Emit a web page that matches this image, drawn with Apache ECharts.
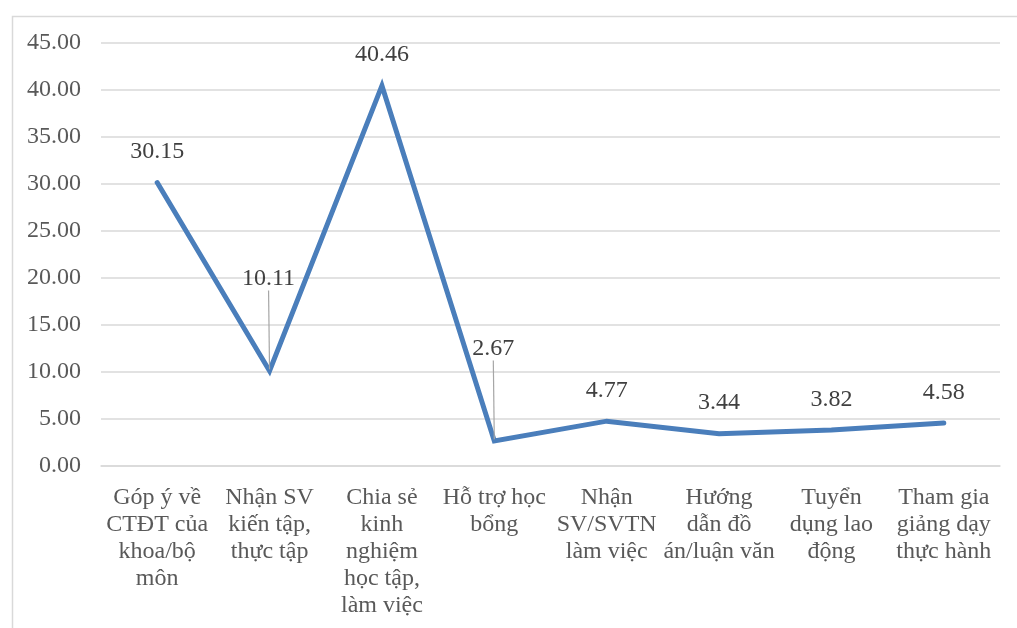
<!DOCTYPE html>
<html>
<head>
<meta charset="utf-8">
<script src="https://cdn.jsdelivr.net/npm/echarts@6/dist/echarts.min.js"></script>
<style>
  html, body { margin: 0; padding: 0; background: #ffffff; }
  #chart { width: 1017px; height: 628px; }
</style>
</head>
<body>
<div id="chart"></div>
<script>
// Forms of cooperation and their shares (%)
const categories = [
  'Góp ý về\nCTĐT của\nkhoa/bộ\nmôn',
  'Nhận SV\nkiến tập,\nthực tập',
  'Chia sẻ\nkinh\nnghiệm\nhọc tập,\nlàm việc',
  'Hỗ trợ học\nbổng',
  'Nhận\nSV/SVTN\nlàm việc',
  'Hướng\ndẫn đồ\nán/luận văn',
  'Tuyển\ndụng lao\nđộng',
  'Tham gia\ngiảng dạy\nthực hành'
];
const shares = [30.15, 10.11, 40.46, 2.67, 4.77, 3.44, 3.82, 4.58];
const yTicks = [0, 5, 10, 15, 20, 25, 30, 35, 40, 45];

// Points whose value labels are lifted clear of the line with a leader
const liftedLabels = [1, 3];

const FONT = 'Liberation Serif';
const LINE_BLUE = '#4a7ebb';

const seriesData = shares.map((v, i) => liftedLabels.includes(i)
  ? { value: v, labelLine: { show: true, lineStyle: { color: '#a6a6a6', width: 1.2 } } }
  : { value: v });

const chart = echarts.init(document.getElementById('chart'), null, { renderer: 'canvas' });

chart.setOption({
  backgroundColor: '#ffffff',
  animation: false,
  textStyle: { fontFamily: FONT },
  graphic: [{
    type: 'rect',
    left: 10, top: 14,
    shape: { width: 1030, height: 640 },
    style: { fill: 'none', stroke: '#d9d9d9', lineWidth: 1.5 },
    silent: true
  }],
  grid: { left: 101, right: 17, top: 43, bottom: 162 },
  xAxis: {
    type: 'category',
    data: categories,
    boundaryGap: true,
    axisLine: { show: true, lineStyle: { color: '#d9d9d9', width: 1.5 } },
    axisTick: { show: false },
    axisLabel: {
      interval: 0,
      margin: 18,
      color: '#595959',
      fontFamily: FONT,
      fontSize: 24,
      lineHeight: 27,
      align: 'center'
    }
  },
  yAxis: {
    type: 'value',
    min: yTicks[0],
    max: yTicks[yTicks.length - 1],
    interval: 5,
    axisLine: { show: false },
    axisTick: { show: false },
    splitLine: { lineStyle: { color: '#d9d9d9', width: 1.5 } },
    axisLabel: {
      margin: 20,
      color: '#595959',
      fontFamily: FONT,
      fontSize: 24,
      formatter: v => v.toFixed(2)
    }
  },
  series: [{
    type: 'line',
    data: seriesData,
    symbol: 'circle',
    symbolSize: 3,
    showSymbol: true,
    itemStyle: { color: LINE_BLUE },
    lineStyle: { color: LINE_BLUE, width: 5, cap: 'round', join: 'miter' },
    label: {
      show: true,
      position: 'top',
      distance: 17,
      color: '#404040',
      fontFamily: FONT,
      fontSize: 24,
      formatter: p => p.value.toFixed(2)
    },
    labelLayout: p => liftedLabels.includes(p.dataIndex) ? { dy: -62, dx: -1 } : {}
  }]
});
</script>
</body>
</html>
